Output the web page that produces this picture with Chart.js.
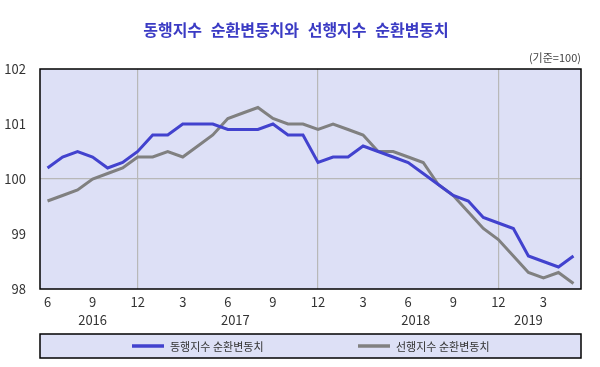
<!DOCTYPE html>
<html><head><meta charset="utf-8">
<script src="https://cdn.jsdelivr.net/npm/chart.js@4.4.0/dist/chart.umd.min.js"></script>
<style>html,body{margin:0;padding:0;background:#fff;}#wrap{width:600px;height:367px;}</style>
</head><body><div id="wrap"><canvas id="c" width="600" height="367"></canvas></div>
<script>
const chartTitle = '동행지수 순환변동치와 선행지수 순환변동치';
const unitLabel = '(기준=100)';
const categories = [
 '2016.6','2016.7','2016.8','2016.9','2016.10','2016.11','2016.12',
 '2017.1','2017.2','2017.3','2017.4','2017.5','2017.6','2017.7','2017.8','2017.9','2017.10','2017.11','2017.12',
 '2018.1','2018.2','2018.3','2018.4','2018.5','2018.6','2018.7','2018.8','2018.9','2018.10','2018.11','2018.12',
 '2019.1','2019.2','2019.3','2019.4','2019.5'];
const seriesNames = ['동행지수 순환변동치', '선행지수 순환변동치'];
const coincident = [
 100.2,100.4,100.5,100.4,100.2,100.3,100.5,
 100.8,100.8,101.0,101.0,101.0,100.9,100.9,100.9,101.0,100.8,100.8,100.3,
 100.4,100.4,100.6,100.5,100.4,100.3,100.1,99.9,99.7,99.6,99.3,99.2,
 99.1,98.6,98.5,98.4,98.6];
const leading = [
 99.6,99.7,99.8,100.0,100.1,100.2,100.4,
 100.4,100.5,100.4,100.6,100.8,101.1,101.2,101.3,101.1,101.0,101.0,100.9,
 101.0,100.9,100.8,100.5,100.5,100.4,100.3,99.9,99.7,99.4,99.1,98.9,
 98.6,98.3,98.2,98.3,98.1];
const yTicks = [98, 99, 100, 101, 102];

const BLUE = 'rgb(66,66,206)';
const GRAY = 'rgb(128,128,128)';
const BG = '#dde0f6';
const FONT = "'Noto Sans CJK KR','Noto Sans',sans-serif";

const monthOf = c => Number(c.split('.')[1]);
const yearOf = c => c.split('.')[0];

const deco = {
  id: 'deco',
  beforeDraw(chart) {
    const {ctx, chartArea: a} = chart;
    ctx.save();
    ctx.fillStyle = BG;
    ctx.fillRect(a.left, a.top, a.right - a.left, a.bottom - a.top);
    ctx.restore();
  },
  afterDraw(chart) {
    const {ctx, chartArea: a} = chart;
    const xs = chart.scales.x;
    ctx.save();
    // border
    ctx.strokeStyle = '#000';
    ctx.lineWidth = 1.5;
    ctx.strokeRect(a.left, a.top, a.right - a.left, a.bottom - a.top);
    // title
    ctx.fillStyle = '#3b3bc4';
    ctx.font = "bold 16px " + FONT;
    ctx.textAlign = 'center';
    ctx.textBaseline = 'middle';
    if ('wordSpacing' in ctx) ctx.wordSpacing = '5px';
    ctx.fillText(chartTitle, 296, 30);
    if ('wordSpacing' in ctx) ctx.wordSpacing = '0px';
    // unit
    ctx.fillStyle = '#444';
    ctx.font = "11px " + FONT;
    ctx.textAlign = 'right';
    ctx.fillText(unitLabel, a.right, 58);
    // years: centred on the year's span up to its last labelled month
    const years = [];
    categories.forEach((c, i) => {
      const y = yearOf(c);
      let e = years.find(o => o.y === y);
      if (!e) { e = {y, first: i, last: i}; years.push(e); }
      if (monthOf(c) % 3 === 0) e.last = i;
    });
    ctx.fillStyle = '#333';
    ctx.font = "13px " + FONT;
    ctx.textAlign = 'center';
    years.forEach(e => {
      ctx.fillText(e.y, xs.getPixelForValue((e.first + e.last) / 2), 320);
    });
    // legend box
    const lt = 334, lb = 358;
    ctx.fillStyle = BG;
    ctx.fillRect(a.left, lt, a.right - a.left, lb - lt);
    ctx.strokeStyle = '#000';
    ctx.lineWidth = 1.5;
    ctx.strokeRect(a.left, lt, a.right - a.left, lb - lt);
    const cy = (lt + lb) / 2;
    const items = [{x: 132, c: BLUE}, {x: 358, c: GRAY}];
    ctx.font = "11px " + FONT;
    ctx.textAlign = 'left';
    items.forEach((it, k) => {
      ctx.strokeStyle = it.c;
      ctx.lineWidth = 3.5;
      ctx.beginPath();
      ctx.moveTo(it.x, cy); ctx.lineTo(it.x + 32, cy);
      ctx.stroke();
      ctx.fillStyle = '#333';
      ctx.fillText(chart.data.datasets[k].label, it.x + 38, cy + 1);
    });
    ctx.restore();
  }
};

new Chart(document.getElementById('c'), {
  type: 'line',
  data: {
    labels: categories,
    datasets: [
      {label: seriesNames[0], data: coincident, borderColor: BLUE, borderWidth: 3, pointRadius: 0, tension: 0, fill: false},
      {label: seriesNames[1], data: leading, borderColor: GRAY, borderWidth: 3, pointRadius: 0, tension: 0, fill: false}
    ]
  },
  options: {
    responsive: false,
    animation: false,
    events: [],
    layout: {padding: {left: 0, right: 19, top: 69, bottom: 56}},
    plugins: {legend: {display: false}, title: {display: false}, tooltip: {enabled: false}},
    scales: {
      x: {
        offset: true,
        border: {display: false},
        grid: {
          offset: false,
          drawTicks: false,
          color: c => (c.tick && monthOf(categories[c.index]) === 12) ? '#b8b8b8' : 'rgba(0,0,0,0)',
          lineWidth: 1.2
        },
        ticks: {
          autoSkip: false, maxRotation: 0, padding: 5,
          color: '#333', font: {family: FONT, size: 13},
          callback: (v, i) => { const m = monthOf(categories[i]); return m % 3 === 0 ? String(m) : ''; }
        },
        afterFit: s => { s.height = 22; }
      },
      y: {
        min: 98, max: 102,
        border: {display: false},
        afterBuildTicks: s => { s.ticks = yTicks.map(v => ({value: v})); },
        grid: {
          drawTicks: false,
          color: c => (c.tick && c.tick.value === 100) ? '#b8b8b8' : 'rgba(0,0,0,0)',
          lineWidth: 1.2
        },
        ticks: {padding: 14, color: '#333', font: {family: FONT, size: 13}},
        afterFit: s => { s.width = 40; }
      }
    }
  },
  plugins: [deco]
});
</script>
</body></html>
